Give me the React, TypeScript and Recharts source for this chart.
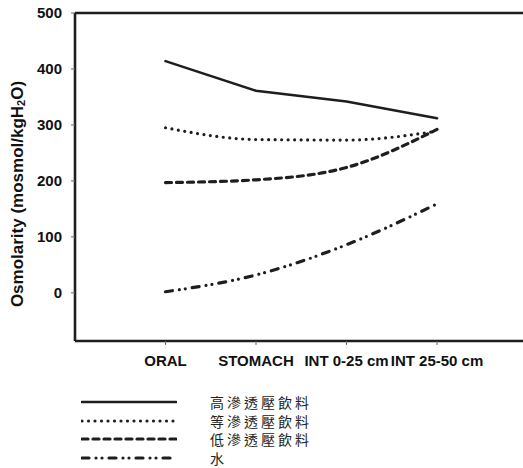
import { Legend, Line, LineChart, ReferenceLine, XAxis, YAxis } from "recharts";

document.body.style.margin = "0";

const stages = ["ORAL", "STOMACH", "INT 0-25 cm", "INT 25-50 cm"];
const stagePos = [1, 2, 3, 4];
const hyper = [414, 361, 342, 312];
const iso = [295, 274, 273, 289];
const hypo = [197, 202, 224, 292];
const water = [2, 32, 86, 159];
const yTicks = [0, 100, 200, 300, 400, 500];

const series = [
  { key: "hyper", name: "高滲透壓飲料", dash: undefined, width: 2.6, curve: "linear" },
  { key: "iso", name: "等滲透壓飲料", dash: "0 6.5", width: 3.2, curve: "monotone" },
  { key: "hypo", name: "低滲透壓飲料", dash: "6 5", width: 3.2, curve: "monotone" },
  { key: "water", name: "水", dash: "7 7 0 6 0 7", width: 3.2, curve: "monotone" },
] as const;

const data = stagePos.map((x, i) => ({
  x,
  hyper: hyper[i],
  iso: iso[i],
  hypo: hypo[i],
  water: water[i],
}));

const ink = "#1e1e1e";
const latin = "'Liberation Sans', Arial, sans-serif";

function YLabel() {
  return (
    <text
      x={17}
      y={194}
      transform="rotate(-90, 17, 194)"
      textAnchor="middle"
      dominantBaseline="central"
      fontFamily={latin}
      fontWeight={700}
      fontSize={17}
      fill="#111"
    >
      Osmolarity (mosmol/kgH
      <tspan fontSize={11} dy={4}>2</tspan>
      <tspan dy={-4}>O)</tspan>
    </text>
  );
}

function LegendBox() {
  return (
    <div>
      {series.map((s) => (
        <div key={s.key} style={{ display: "flex", alignItems: "center", height: 18.5 }}>
          <svg width={96} height={10} style={{ flex: "none" }}>
            <line
              x1={1}
              y1={5}
              x2={95}
              y2={5}
              stroke={ink}
              strokeWidth={s.width}
              strokeDasharray={s.dash}
              strokeLinecap="round"
            />
          </svg>
          <span
            style={{
              marginLeft: 33,
              fontFamily: "'Noto Sans CJK TC', sans-serif",
              fontSize: 14,
              letterSpacing: 3,
              color: "#222",
              lineHeight: "18px",
            }}
          >
            {s.name}
          </span>
        </div>
      ))}
    </div>
  );
}

export default function App() {
  return (
    <div style={{ width: 523, height: 468, background: "#fff" }}>
      <LineChart width={523} height={468} data={data} margin={{ top: 13, right: 0, bottom: 97, left: 0 }}>
        <ReferenceLine y={500} stroke={ink} strokeWidth={2.6} />
        <XAxis
          type="number"
          dataKey="x"
          domain={[0, 4.95]}
          ticks={stagePos}
          tickFormatter={(v: number) => stages[v - 1]}
          axisLine={{ stroke: ink, strokeWidth: 2.6 }}
          tickLine={{ stroke: "#666" }}
          tickSize={4}
          tickMargin={10}
          height={30}
          interval={0}
          tick={{ fill: "#111", fontSize: 15, fontWeight: 700, fontFamily: latin }}
        />
        <YAxis
          domain={[-86, 500]}
          ticks={yTicks}
          width={75}
          axisLine={{ stroke: ink, strokeWidth: 2.6 }}
          tickLine={{ stroke: "#666" }}
          tickSize={4}
          tickMargin={9}
          tick={{ fill: "#111", fontSize: 15, fontWeight: 700, fontFamily: latin }}
          label={<YLabel />}
        />
        <Legend
          layout="horizontal"
          verticalAlign="middle"
          content={<LegendBox />}
          wrapperStyle={{ position: "absolute", top: 393, left: 81, width: 320 }}
        />
        {series.map((s) => (
          <Line
            key={s.key}
            type={s.curve}
            dataKey={s.key}
            name={s.name}
            stroke={ink}
            strokeWidth={s.width}
            strokeDasharray={s.dash}
            strokeLinecap="round"
            dot={false}
            activeDot={false}
            isAnimationActive={false}
          />
        ))}
      </LineChart>
    </div>
  );
}
